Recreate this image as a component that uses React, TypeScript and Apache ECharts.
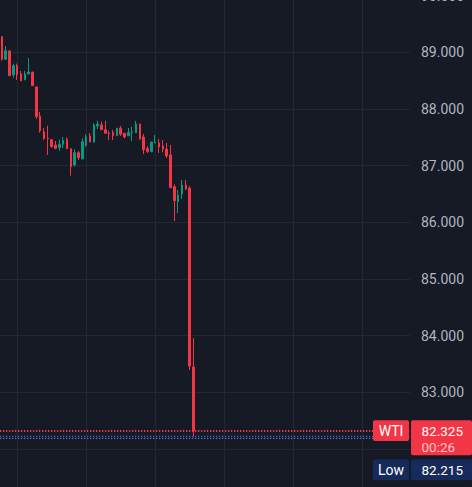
import React, { useEffect, useRef } from "react";
import * as echarts from "echarts";

const symbolName = "WTI";
const lastPrice = 82.325;
const countdown = "00:26";
const lowLabel = "Low";
const lowPrice = 82.215;
const bidPrice = 82.19;
const slotCount = 107;
const gridEvery = 18;
const gridOffset = 4;
// price levels whose scale label is hidden behind the price tags / off the picture
const hiddenTicks = [81, 82];

const opens = [
  89.275, 88.876, 89.023, 88.605, 88.764, 88.622, 88.511, 88.617, 88.652, 88.388,
  87.876, 87.594, 87.482, 87.458, 87.364, 87.317, 87.377, 87.465, 87.299, 87.011,
  87.228, 87.117, 87.359, 87.523, 87.412, 87.7, 87.717, 87.634, 87.571, 87.585,
  87.527, 87.661, 87.571, 87.527, 87.588, 87.581, 87.735, 87.505, 87.302, 87.246,
  87.405, 87.4, 87.347, 87.294, 87.188, 86.628, 86.364, 86.5, 86.658, 86.605,
  83.447,
];
const closes = [
  88.876, 89.028, 88.587, 88.764, 88.605, 88.494, 88.617, 88.652, 88.411, 87.864,
  87.617, 87.479, 87.474, 87.334, 87.306, 87.377, 87.447, 87.299, 86.981, 87.228,
  87.14, 87.422, 87.505, 87.417, 87.717, 87.735, 87.634, 87.571, 87.558, 87.527,
  87.661, 87.555, 87.505, 87.585, 87.599, 87.735, 87.467, 87.281, 87.25, 87.417,
  87.412, 87.329, 87.294, 87.17, 86.611, 86.381, 86.482, 86.658, 86.588, 83.464,
  82.325,
];
const lows = [
  88.852, 88.873, 88.587, 88.552, 88.511, 88.494, 88.511, 88.617, 88.411, 87.823,
  87.581, 87.452, 87.188, 87.32, 87.288, 87.258, 87.306, 87.299, 86.822, 86.981,
  87.1, 87.117, 87.334, 87.417, 87.412, 87.647, 87.629, 87.564, 87.452, 87.452,
  87.523, 87.523, 87.482, 87.523, 87.43, 87.581, 87.467, 87.205, 87.223, 87.237,
  87.394, 87.223, 87.235, 87.135, 86.605, 86.023, 86.164, 86.411, 86.57, 83.394,
  82.215,
];
const highs = [
  89.288, 89.111, 89.03, 88.8, 88.8, 88.67, 88.67, 88.9, 88.652, 88.388,
  87.947, 87.664, 87.704, 87.47, 87.435, 87.458, 87.505, 87.493, 87.299, 87.288,
  87.258, 87.482, 87.553, 87.576, 87.747, 87.793, 87.775, 87.793, 87.617, 87.629,
  87.661, 87.7, 87.571, 87.664, 87.687, 87.788, 87.735, 87.558, 87.347, 87.417,
  87.541, 87.47, 87.452, 87.4, 87.364, 86.671, 86.57, 86.747, 86.747, 86.64,
  83.958,
];

const BG = "#161a25";
const RED = "#f23645";
const GREEN = "#089981";
const FONT = "Roboto, 'Noto Sans', sans-serif";

export default function App() {
  const ref = useRef<HTMLDivElement>(null);
  useEffect(() => {
    document.body.style.margin = "0";
    document.body.style.background = BG;
    const el = ref.current!;
    const chart = echarts.init(el, undefined, { renderer: "svg" });
    const categories = Array.from({ length: slotCount }, (_, i) => String(i));
    const data = opens.map((o, i) => [o, closes[i], lows[i], highs[i]]);
    chart.setOption({
      animation: false,
      backgroundColor: BG,
      grid: {
        left: 0,
        right: 62,
        top: -4.4,
        bottom: -18.7,
        containLabel: false,
        outerBoundsMode: "none",
      },
      xAxis: {
        type: "category",
        data: categories,
        boundaryGap: true,
        axisLine: { show: false },
        axisTick: { show: false },
        axisLabel: { show: false },
        splitLine: {
          show: true,
          alignWithLabel: true,
          interval: (idx: number) => idx % gridEvery === gridOffset,
          lineStyle: { color: "#242833", width: 1 },
        },
      },
      yAxis: {
        type: "value",
        position: "right",
        min: 81,
        max: 90,
        interval: 1,
        axisLine: { show: false },
        axisTick: { show: false },
        axisLabel: {
          color: "#b2b5be",
          fontSize: 14,
          fontFamily: FONT,
          margin: 11,
          formatter: (v: number) => (hiddenTicks.includes(v) ? "" : v.toFixed(3)),
        },
        splitLine: { show: true, lineStyle: { color: "#242833", width: 1 } },
      },
      series: [
        {
          type: "candlestick",
          data,
          barWidth: 2,
          itemStyle: {
            color: GREEN,
            color0: RED,
            borderColor: GREEN,
            borderColor0: RED,
            borderWidth: 1,
          },
          markLine: {
            silent: true,
            symbol: ["none", "none"],
            label: { show: false },
            emphasis: { disabled: true },
            data: [
              { yAxis: bidPrice, lineStyle: { color: "#787b86", type: [1.3, 1.7], width: 1 } },
              { yAxis: lowPrice, lineStyle: { color: "#2962ff", type: [1.3, 1.7], width: 1.3 } },
              { yAxis: lastPrice, lineStyle: { color: RED, type: [1.3, 1.7], width: 2 } },
            ],
          },
        },
      ],
    });

    const yLast = chart.convertToPixel({ yAxisIndex: 0 }, lastPrice) as number;
    const boxH = 20.7;
    const tagX = 373;
    const tagW = 36;
    const valX = 411;
    const valW = 61;
    const topLast = yLast - boxH / 2;
    const lastBoxH = 35;
    const lowTop = topLast + lastBoxH + 4.3;
    const NAVY = "#162b5b";
    const f = `13.5px ${FONT}`;
    chart.setOption({
      graphic: [
        { type: "rect", shape: { x: tagX, y: topLast, width: tagW, height: boxH, r: 2 }, style: { fill: RED }, z: 100 },
        { type: "text", z: 101, style: { text: symbolName, x: tagX + tagW / 2, y: topLast + boxH / 2, fill: "#ffffff", font: `14px ${FONT}`, align: "center", verticalAlign: "middle" } },
        { type: "rect", shape: { x: valX, y: topLast, width: valW, height: lastBoxH, r: 2 }, style: { fill: RED }, z: 100 },
        { type: "text", z: 101, style: { text: lastPrice.toFixed(3), x: valX + 10.5, y: topLast + boxH / 2, fill: "#ffffff", font: f, align: "left", verticalAlign: "middle" } },
        { type: "text", z: 101, style: { text: countdown, x: valX + 10.5, y: topLast + boxH / 2 + 16.5, fill: "rgba(255,255,255,0.72)", font: f, align: "left", verticalAlign: "middle" } },
        { type: "rect", shape: { x: tagX, y: lowTop, width: tagW, height: boxH, r: 2 }, style: { fill: NAVY }, z: 100 },
        { type: "text", z: 101, style: { text: lowLabel, x: tagX + tagW / 2, y: lowTop + boxH / 2, fill: "#ffffff", font: `14px ${FONT}`, align: "center", verticalAlign: "middle" } },
        { type: "rect", shape: { x: valX, y: lowTop, width: valW, height: boxH, r: 2 }, style: { fill: NAVY }, z: 100 },
        { type: "text", z: 101, style: { text: lowPrice.toFixed(3), x: valX + 10.5, y: lowTop + boxH / 2, fill: "#ffffff", font: f, align: "left", verticalAlign: "middle" } },
      ],
    });
    return () => chart.dispose();
  }, []);
  return (
    <div
      ref={ref}
      style={{ position: "fixed", left: 0, top: 0, width: 472, height: 487, background: BG }}
    />
  );
}
